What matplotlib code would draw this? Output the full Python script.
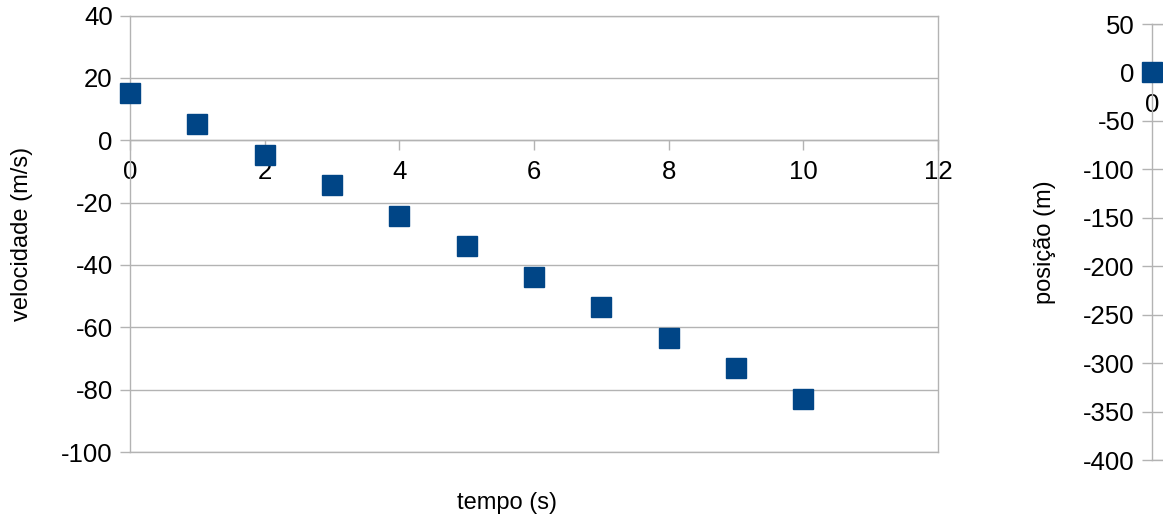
import numpy as np
import matplotlib.pyplot as plt
from matplotlib import rc

rc('font', family='Liberation Sans')
plt.rcParams['axes.unicode_minus'] = False

# dados
tempo = [0, 1, 2, 3, 4, 5, 6, 7, 8, 9, 10]
velocidade = [15, 5.2, -4.6, -14.4, -24.2, -34, -43.8, -53.6, -63.4, -73.2, -83]
posicao = [0, 10.1, 10.4, 0.9, -18.4, -47.5, -86.4, -135.1, -193.6, -261.9, -340]

cor = "#004586"
cinza = "#b3b3b3"
W, H = 1163, 519

fig = plt.figure(figsize=(W / 100., H / 100.), dpi=100)


def eixo(rect, y, ylim, ystep, ylabel, ylab_x, xlab_x, xticks):
    ax = fig.add_axes(rect)
    ax.plot(tempo, y, "s", color=cor, markersize=14, clip_on=False, zorder=5)
    ax.set_xlim(0, 12)
    ax.set_ylim(*ylim)
    ax.set_xticks(xticks)
    ax.set_yticks(np.arange(ylim[0], ylim[1] + 1, ystep))
    ax.grid(axis='y', color=cinza, linewidth=1)
    ax.axhline(ylim[0], color=cinza, linewidth=1, clip_on=False, zorder=0)  # linha de baixo
    ax.set_axisbelow(True)
    for s in ax.spines.values():
        s.set_color(cinza)
        s.set_linewidth(1)
    ax.spines['bottom'].set_position(('data', 0))
    ax.tick_params(axis='both', colors=cinza, labelcolor='black', labelsize=18.5,
                   length=7, width=1, direction='out', pad=5.5)
    ax.tick_params(axis='x', length=7.5, pad=7)
    # rótulos na posição do original
    yc = rect[1] + rect[3] / 2.
    fig.text(ylab_x, yc, ylabel, rotation=90, ha='center', va='center', fontsize=17)
    if xlab_x < 1:
        fig.text(xlab_x, 1 - 503. / H, u"tempo (s)", ha='center', va='center', fontsize=17)
    return ax


eixo([130. / W, 1 - 452. / H, 808. / W, 436.5 / H], velocidade, (-100, 40), 20,
     u"velocidade (m/s)", 22. / W, 507. / W, np.arange(0, 13, 2))
# segundo gráfico cortado na borda direita: só o 0 do eixo x aparece
eixo([1152. / W, 1 - 460. / H, 808. / W, 436. / H], posicao, (-400, 50), 50,
     u"posição (m)", 1045. / W, 2.0, [0])

plt.savefig("out.png", dpi=100)
